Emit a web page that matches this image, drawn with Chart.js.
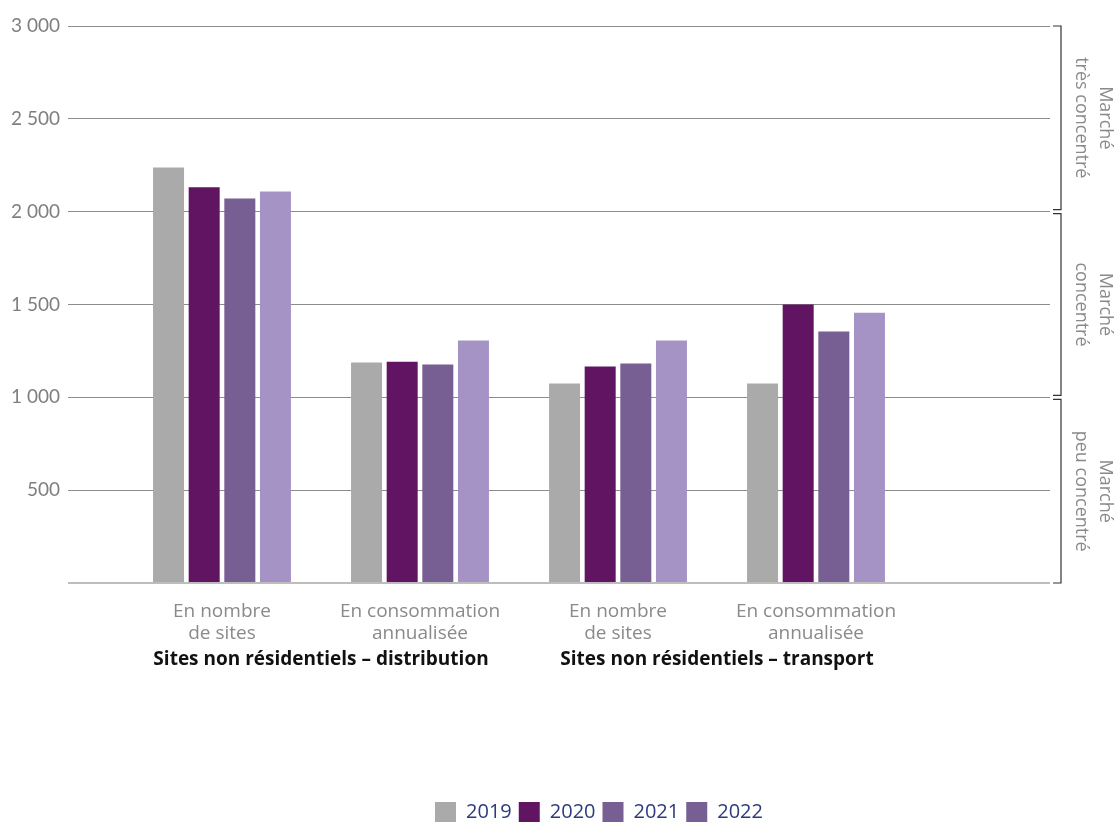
<!DOCTYPE html>
<html>
<head>
<meta charset="utf-8">
<script src="https://cdn.jsdelivr.net/npm/chart.js@4.4.0/dist/chart.umd.min.js"></script>
<style>
  html, body { margin: 0; padding: 0; background: #fff; }
</style>
</head>
<body>
<canvas id="chart" width="1115" height="824"></canvas>
<script>
// data
const categories = [['En nombre', 'de sites'], ['En consommation', 'annualisée'], ['En nombre', 'de sites'], ['En consommation', 'annualisée']];
const groupLabels = ['Sites non résidentiels – distribution', 'Sites non résidentiels – transport'];
const years = ['2019', '2020', '2021', '2022'];
const values2019 = [2238, 1187, 1074, 1074];
const values2020 = [2131, 1192, 1166, 1500];
const values2021 = [2071, 1177, 1182, 1354];
const values2022 = [2109, 1306, 1306, 1456];
const yMax = 3000;
const yStep = 500;
const zoneBounds = [[2000, 3000], [1000, 2000], [0, 1000]];
const zoneLabels = [['Marché', 'très concentré'], ['Marché', 'concentré'], ['Marché', 'peu concentré']];

const barColors = ['#aaaaaa', '#611462', '#775f93', '#a593c6'];
const legendColors = ['#aaaaaa', '#611462', '#775f93', '#775f93'];
const FONT = '"Open Sans", Lato, sans-serif';

const fmt = v => v === 0 ? '' : String(v).replace(/\B(?=(\d{3})+$)/g, ' ');
const gridColor = c => c.tick.value === 0 ? '#bdbdbd' : '#8c8c8c';
const gridWidth = c => c.tick.value === 0 ? 2 : 1;

const extras = {
  id: 'extras',
  afterLayout(chart) {
    // legend sits right of centre in the original
    chart.legend.left += 74;
    chart.legend.right += 74;
  },
  afterDraw(chart) {
    const ctx = chart.ctx;
    const x = chart.scales.x, y = chart.scales.y;
    ctx.save();
    // group labels under the pairs of categories
    ctx.fillStyle = '#111';
    ctx.font = 'bold 19px ' + FONT;
    ctx.textAlign = 'center';
    ctx.textBaseline = 'middle';
    groupLabels.forEach((g, i) => {
      const cx = (x.getPixelForValue(i * 2) + x.getPixelForValue(i * 2 + 1)) / 2;
      ctx.fillText(g, cx, 660);
    });
    // brackets on the right
    const bx = 1061;
    zoneBounds.forEach((b, i) => {
      const y1 = y.getPixelForValue(b[1]) + (b[1] === yMax ? 0 : 2);
      const y2 = y.getPixelForValue(b[0]) - (b[0] === 0 ? 0 : 2);
      ctx.strokeStyle = '#333';
      ctx.lineWidth = 1.2;
      ctx.beginPath();
      ctx.moveTo(bx - 8, y1); ctx.lineTo(bx, y1); ctx.lineTo(bx, y2); ctx.lineTo(bx - 8, y2);
      ctx.stroke();
      ctx.save();
      ctx.translate(1093, (y1 + y2) / 2);
      ctx.rotate(Math.PI / 2);
      ctx.fillStyle = '#8a8a8a';
      ctx.font = '18px ' + FONT;
      ctx.textAlign = 'center';
      ctx.textBaseline = 'middle';
      ctx.fillText(zoneLabels[i][0], 0, -12);
      ctx.fillText(zoneLabels[i][1], 0, 12);
      ctx.restore();
    });
    ctx.restore();
  }
};

const yearData = [values2019, values2020, values2021, values2022];

new Chart(document.getElementById('chart'), {
  type: 'bar',
  data: {
    labels: categories,
    datasets: years.map((yr, i) => ({
      label: yr,
      data: yearData[i],
      backgroundColor: barColors[i],
      categoryPercentage: 0.72,
      barPercentage: 0.87,
      yAxisID: 'y'
    }))
  },
  options: {
    responsive: false,
    animation: false,
    devicePixelRatio: 1,
    layout: { padding: { left: 0, right: 65, top: 26, bottom: -8 } },
    plugins: {
      tooltip: { enabled: false },
      legend: {
        position: 'bottom',
        labels: {
          boxWidth: 21,
          boxHeight: 20,
          padding: 7,
          color: '#2e3a7e',
          font: { family: '"Open Sans", sans-serif', size: 20 },
          generateLabels: chart => years.map((yr, i) => ({
            text: yr,
            fillStyle: legendColors[i],
            strokeStyle: legendColors[i],
            lineWidth: 0,
            fontColor: '#2e3a7e',
            datasetIndex: i
          }))
        }
      }
    },
    scales: {
      x: {
        grid: { display: false },
        border: { display: false },
        ticks: { color: '#8a8a8a', padding: 10, font: { family: FONT, size: 19, lineHeight: 1.13 } },
        afterFit: s => { s.height = 212; }
      },
      y: {
        min: 0, max: yMax,
        border: { display: false },
        grid: { color: gridColor, lineWidth: gridWidth, tickLength: 55 },
        ticks: { stepSize: yStep, padding: 8, color: '#7f7f7f', font: { family: 'Lato, sans-serif', size: 19 }, callback: fmt },
        afterFit: s => { s.width = 123; }
      },
      y2: {
        position: 'right',
        min: 0, max: yMax,
        border: { display: false },
        grid: { drawOnChartArea: false, color: gridColor, lineWidth: gridWidth, tickLength: 135 },
        ticks: { stepSize: yStep, display: false },
        afterFit: s => { s.width = 135; }
      }
    }
  },
  plugins: [extras]
});
</script>
</body>
</html>
